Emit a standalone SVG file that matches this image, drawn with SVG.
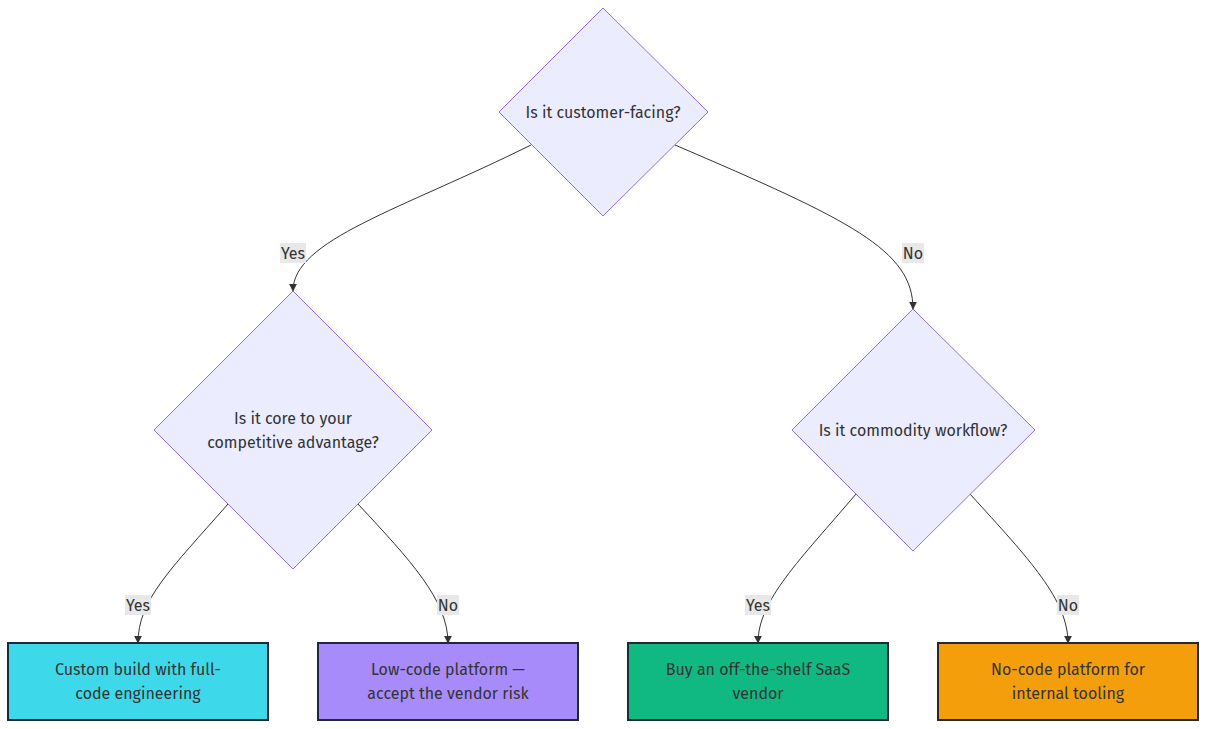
<svg xmlns="http://www.w3.org/2000/svg" width="1206" height="729" viewBox="0 0 1206 729">
<style>
text{font-family:"Fira Sans","Noto Sans","Open Sans",sans-serif;font-size:16px;fill:#333;text-anchor:middle;dominant-baseline:central}
.d{fill:#ececff;stroke:#9370db;stroke-width:1}
.b{stroke:#1f2937;stroke-width:2}
.e{fill:none;stroke:#333;stroke-width:1}
.lb{fill:#e8e8e8}
</style>
<defs><marker id="a" viewBox="0 0 10 10" refX="9" refY="5" markerWidth="8" markerHeight="8" orient="auto"><path d="M0,0L10,5L0,10z" fill="#333"/></marker></defs>
<rect width="1206" height="729" fill="#fff"/>
<g id="edges">
<path class="e" marker-end="url(#a)" d="M531,145 C400,210 293,240 293,291"/>
<path class="e" marker-end="url(#a)" d="M675,145 C850,220 913,250 913,309"/>
<path class="e" marker-end="url(#a)" d="M228,504 C170,570 138,600 138,643"/>
<path class="e" marker-end="url(#a)" d="M358,504 C410,560 448,600 448,643"/>
<path class="e" marker-end="url(#a)" d="M856,494 C800,560 758,600 758,643"/>
<path class="e" marker-end="url(#a)" d="M970,494 C1030,560 1068,600 1068,643"/>
<rect class="lb" x="280" y="243" width="26" height="20"/><text x="293" y="253">Yes</text>
<rect class="lb" x="902" y="243" width="22" height="20"/><text x="913" y="253">No</text>
<rect class="lb" x="125" y="595" width="26" height="20"/><text x="138" y="605">Yes</text>
<rect class="lb" x="437" y="595" width="22" height="20"/><text x="448" y="605">No</text>
<rect class="lb" x="745" y="595" width="26" height="20"/><text x="758" y="605">Yes</text>
<rect class="lb" x="1057" y="595" width="22" height="20"/><text x="1068" y="605">No</text>
</g>
<g id="q1"><polygon class="d" points="603,8 708,112 603,216 499,112"/><text x="603" y="112">Is it customer-facing?</text></g>
<g id="q2"><polygon class="d" points="293,291 432,430 293,569 154,430"/><text x="293" y="418">Is it core to your</text><text x="293" y="442">competitive advantage?</text></g>
<g id="q3"><polygon class="d" points="913,309 1035,430 913,551 792,430"/><text x="913" y="430">Is it commodity workflow?</text></g>
<g id="n1"><rect class="b" x="8" y="643" width="260" height="77" fill="#3dd9eb"/><text x="138" y="669">Custom build with full-</text><text x="138" y="693">code engineering</text></g>
<g id="n2"><rect class="b" x="318" y="643" width="260" height="77" fill="#a78bfa"/><text x="448" y="669">Low-code platform —</text><text x="448" y="693">accept the vendor risk</text></g>
<g id="n3"><rect class="b" x="628" y="643" width="260" height="77" fill="#10b981"/><text x="758" y="669">Buy an off-the-shelf SaaS</text><text x="758" y="693">vendor</text></g>
<g id="n4"><rect class="b" x="938" y="643" width="260" height="77" fill="#f59e0b"/><text x="1068" y="669">No-code platform for</text><text x="1068" y="693">internal tooling</text></g>
</svg>
